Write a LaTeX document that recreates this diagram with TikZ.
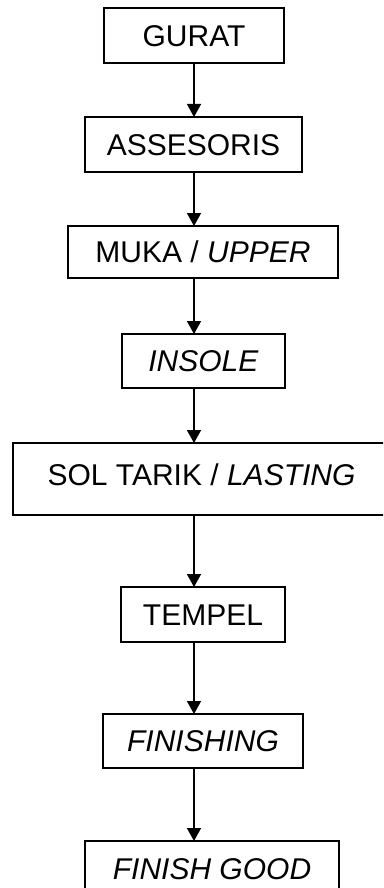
\documentclass[tikz,border=0pt]{standalone}
\usepackage{fontspec}
\setmainfont{Liberation Sans}
\usetikzlibrary{arrows.meta}
\tikzset{
  boxnode/.style={draw=black, line width=1.5pt, inner sep=0pt, outer sep=0pt,
    text height=21.5pt, text depth=0pt, font=\fontsize{30}{36}\selectfont},
  flowarrow/.style={line width=1.5pt, -{Triangle[width=14pt,length=13pt]}}
}
\begin{document}
\begin{tikzpicture}[x=1pt,y=-1pt]
\useasboundingbox (0,0) rectangle (383,888);
\clip (0,0) rectangle (383,888);
\node[boxnode, minimum width=180pt, minimum height=55pt] (gurat) at (194,35.5) {GURAT};
\node[boxnode, minimum width=217pt, minimum height=55pt] (assesoris) at (193.5,144.5) {ASSESORIS};
\node[boxnode, minimum width=270pt, minimum height=52pt] (muka) at (203,252) {MUKA / \textit{UPPER}};
\node[boxnode, minimum width=163pt, minimum height=54pt] (insole) at (203.5,361) {\textit{INSOLE}};
\node[boxnode, minimum width=377pt, minimum height=72pt, text depth=8pt] (sol) at (201.5,479) {SOL TARIK / \textit{LASTING}};
\node[boxnode, minimum width=164pt, minimum height=55pt] (tempel) at (203,614.5) {TEMPEL};
\node[boxnode, minimum width=200pt, minimum height=54pt] (finishing) at (203,741) {\textit{FINISHING}};
\node[boxnode, minimum width=254pt, minimum height=55pt] (fgood) at (212,868.5) {\textit{FINISH GOOD}};
\coordinate (ax) at (194,0);
\draw[flowarrow] (gurat.south -| ax) -- (assesoris.north -| ax);
\draw[flowarrow] (assesoris.south -| ax) -- (muka.north -| ax);
\draw[flowarrow] (muka.south -| ax) -- (insole.north -| ax);
\draw[flowarrow] (insole.south -| ax) -- (sol.north -| ax);
\draw[flowarrow] (sol.south -| ax) -- (tempel.north -| ax);
\draw[flowarrow] (tempel.south -| ax) -- (finishing.north -| ax);
\draw[flowarrow] (finishing.south -| ax) -- (fgood.north -| ax);
\end{tikzpicture}
\end{document}
